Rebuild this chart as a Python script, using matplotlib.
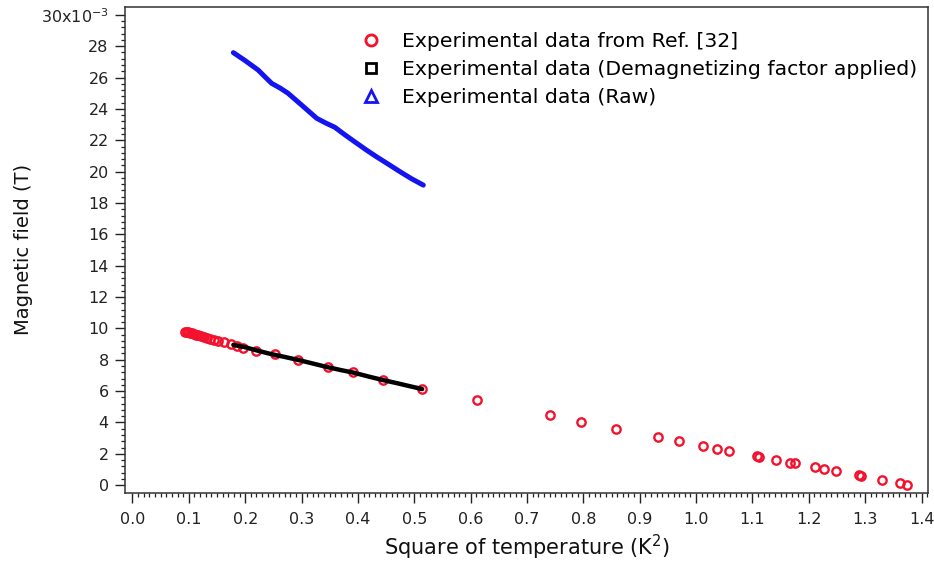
import matplotlib
matplotlib.use("Agg")
import matplotlib.pyplot as plt
import numpy as np
from matplotlib.lines import Line2D
from matplotlib.ticker import FixedLocator, NullFormatter

plt.rcParams['font.family'] = ['DejaVu Sans']
plt.rcParams['mathtext.default'] = 'regular'

# Critical field data from Ref. [32] (T^2 in K^2, field in mT)
ref_t2 = [0.093, 0.096, 0.099, 0.102, 0.105, 0.109, 0.113, 0.117, 0.122, 0.127,
          0.132, 0.138, 0.144, 0.152, 0.163, 0.175, 0.186, 0.197, 0.220, 0.253,
          0.293, 0.347, 0.392, 0.444, 0.514, 0.611, 0.741, 0.795, 0.858, 0.932,
          0.970, 1.012, 1.037, 1.059, 1.108, 1.112, 1.142, 1.166, 1.176, 1.211,
          1.227, 1.248, 1.289, 1.292, 1.330, 1.362, 1.375]
ref_b = [9.78, 9.76, 9.74, 9.71, 9.68, 9.64, 9.60, 9.55, 9.50, 9.45,
         9.40, 9.34, 9.28, 9.19, 9.11, 8.98, 8.88, 8.78, 8.57, 8.36,
         7.98, 7.55, 7.21, 6.70, 6.13, 5.42, 4.47, 4.04, 3.57, 3.08,
         2.79, 2.49, 2.30, 2.19, 1.83, 1.79, 1.60, 1.43, 1.43, 1.13,
         1.02, 0.91, 0.64, 0.60, 0.36, 0.11, 0.04]

# Measured data after demagnetizing-factor correction
demag_t2 = [0.179, 0.200, 0.220, 0.244, 0.270, 0.295, 0.320, 0.347, 0.370,
            0.392, 0.420, 0.445, 0.470, 0.490, 0.514]
demag_b = [8.95, 8.80, 8.60, 8.38, 8.18, 7.98, 7.76, 7.52, 7.34,
           7.18, 6.92, 6.70, 6.50, 6.33, 6.13]

# Raw measured data
raw_t2 = [0.179, 0.200, 0.223, 0.235, 0.247, 0.262, 0.276, 0.300, 0.327, 0.343,
          0.359, 0.378, 0.398, 0.415, 0.433, 0.455, 0.475, 0.495, 0.516]
raw_b = [27.59, 27.08, 26.48, 26.05, 25.63, 25.33, 25.00, 24.25, 23.40, 23.10,
         22.83, 22.32, 21.81, 21.38, 20.95, 20.45, 19.99, 19.55, 19.14]

x_ticks = [0.0, 0.1, 0.2, 0.3, 0.4, 0.5, 0.6, 0.7, 0.8, 0.9, 1.0, 1.1, 1.2, 1.3, 1.4]
x_ticklabels = ['0.0', '0.1', '0.2', '0.3', '0.4', '0.5', '0.6', '0.7', '0.8', '0.9',
                '1.0', '1.1', '1.2', '1.3', '1.4']
y_ticks = [0, 2, 4, 6, 8, 10, 12, 14, 16, 18, 20, 22, 24, 26, 28, 30]
y_ticklabels = ['0', '2', '4', '6', '8', '10', '12', '14', '16', '18', '20', '22',
                '24', '26', '28', '30x10$^{-3}$']

legend_labels = ['Experimental data from Ref. [32]',
                 'Experimental data (Demagnetizing factor applied)',
                 'Experimental data (Raw)']

RED = '#f2122e'
BLUE = '#1414f0'

fig = plt.figure(figsize=(9.34, 5.69), dpi=100)
ax = fig.add_axes([0.1338, 0.1341, 0.9939 - 0.1338, 0.9882 - 0.1341])

ax.plot(ref_t2, ref_b, linestyle='none', marker='o', ms=6, mew=1.7,
        mec=RED, mfc='none', zorder=2)
ax.plot(demag_t2, demag_b, color='black', lw=3.2, solid_capstyle='round',
        solid_joinstyle='round', zorder=3)
ax.plot(raw_t2, raw_b, color=BLUE, lw=3.6, solid_capstyle='round',
        solid_joinstyle='round', zorder=3)

ax.set_xlim(-0.0133, 1.412)
ax.set_ylim(-0.48, 30.52)

ax.set_xticks(x_ticks)
ax.set_xticklabels(x_ticklabels)
ax.set_yticks(y_ticks)
ax.set_yticklabels(y_ticklabels)
ax.xaxis.set_minor_locator(FixedLocator(np.round(np.arange(0, 1.4101, 0.01), 3)))
ax.yaxis.set_minor_locator(FixedLocator(np.round(np.arange(0, 30.01, 0.4), 2)))
ax.xaxis.set_minor_formatter(NullFormatter())
ax.yaxis.set_minor_formatter(NullFormatter())

ax.tick_params(axis='both', which='major', direction='out', length=7.2, width=1.0,
               labelsize=11.5, colors='#222222')
ax.tick_params(axis='both', which='minor', direction='out', length=3.2, width=0.9,
               colors='#222222')
ax.tick_params(axis='x', which='major', pad=7)
ax.tick_params(axis='y', which='major', pad=4.5)

for sp in ax.spines.values():
    sp.set_linewidth(1.1)
    sp.set_color('#333333')

ax.set_xlabel('Square of temperature (K$^{2}$)', fontsize=15, labelpad=4,
              color='#111111')
ax.set_ylabel('Magnetic field (T)', fontsize=14, labelpad=6, color='#111111')

handles = [
    Line2D([], [], linestyle='none', marker='o', ms=8, mew=2.0, mec=RED, mfc='none'),
    Line2D([], [], linestyle='none', marker='s', ms=7.5, mew=2.0, mec='black', mfc='none'),
    Line2D([], [], linestyle='none', marker='^', ms=9, mew=2.0, mec=BLUE, mfc='none'),
]
fig.legend(handles, legend_labels, loc='upper left',
           bbox_to_anchor=(361 / 934, 1 - 32 / 569), bbox_transform=fig.transFigure,
           frameon=False, fontsize=14.7, handlelength=1.0, handletextpad=1.0,
           labelspacing=0.45, borderpad=0, borderaxespad=0)

fig.savefig('out.png', dpi=100, facecolor='white')
